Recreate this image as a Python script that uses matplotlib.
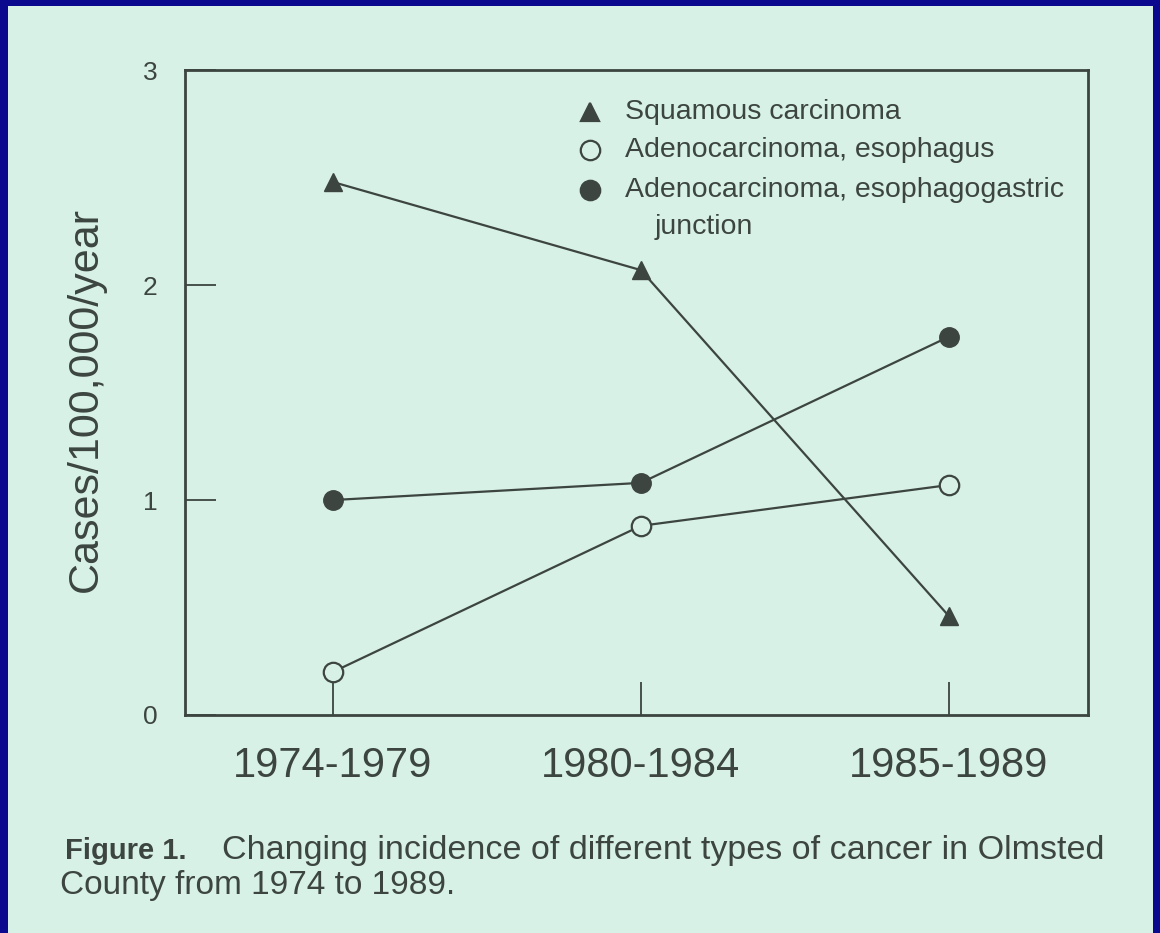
import matplotlib.pyplot as plt
from matplotlib.patches import Rectangle

periods = ['1974-1979', '1980-1984', '1985-1989']
squamous = [2.48, 2.07, 0.46]
adeno_esoph = [0.20, 0.88, 1.07]
adeno_junction = [1.00, 1.08, 1.76]

ink = '#3c4540'
mint = '#d8f1e7'
plt.rcParams['font.family'] = ['Liberation Sans', 'DejaVu Sans']

fig = plt.figure(figsize=(11.6, 9.33), dpi=100)
fig.patch.set_facecolor('#0b0a8e')
# the slide's paper area
fig.patches.append(Rectangle((8 / 1160, 0), 1 - 15 / 1160, 1 - 6 / 933,
                             transform=fig.transFigure, facecolor=mint,
                             edgecolor='none', zorder=-5))

ax = fig.add_axes([0.1595, 0.2337, 0.778, 0.691])
ax.set_facecolor('none')
x = range(len(periods))
ax.plot(x, squamous, color=ink, lw=1.6, marker='^', ms=13, mfc=ink, mec=ink)
ax.plot(x, adeno_esoph, color=ink, lw=1.6, marker='o', ms=14, mfc=mint, mec=ink, mew=1.6)
ax.plot(x, adeno_junction, color=ink, lw=1.6, marker='o', ms=14, mfc=ink, mec=ink)

ax.set_xlim(-0.48, 2.45)
ax.set_ylim(0, 3)
ax.set_xticks(list(x))
ax.set_xticklabels(periods, fontsize=30, color=ink)
ax.set_yticks([0, 1, 2, 3])
ax.set_yticklabels(['0', '1', '2', '3'], fontsize=19, color=ink)
ax.tick_params(axis='x', direction='in', length=24, width=1.3, color=ink, pad=22)
ax.tick_params(axis='y', direction='in', length=22, width=1.3, color=ink, pad=20)
for s in ax.spines.values():
    s.set_color(ink)
    s.set_linewidth(2)
ax.set_ylabel('Cases/100,000/year', fontsize=31, color=ink)
ax.yaxis.set_label_coords(-0.088, 0.49)

# legend drawn as in the printed figure
leg_items = [('^', ink, 'Squamous carcinoma'),
             ('o', mint, 'Adenocarcinoma, esophagus'),
             ('o', ink, 'Adenocarcinoma, esophagogastric')]
leg_y = [0.935, 0.876, 0.815]
for (m, fc, lab), yy in zip(leg_items, leg_y):
    ax.plot([0.449], [yy], transform=ax.transAxes, marker=m, ms=13 if m == '^' else 14,
            mfc=fc, mec=ink, mew=1.6, clip_on=False)
    ax.text(0.487, yy, lab, transform=ax.transAxes, fontsize=20.5, color=ink, va='center')
ax.text(0.52, 0.757, 'junction', transform=ax.transAxes, fontsize=20.5,
        color=ink, va='center')

fig.text(0.056, 0.088, 'Figure 1.', fontsize=21, fontweight='bold', color=ink, va='center')
fig.text(0.191, 0.088, 'Changing incidence of different types of cancer in Olmsted',
         fontsize=24.5, color=ink, va='center')
fig.text(0.052, 0.051, 'County from 1974 to 1989.', fontsize=24, color=ink, va='center')

fig.savefig('out.png', dpi=100, facecolor=fig.get_facecolor())
